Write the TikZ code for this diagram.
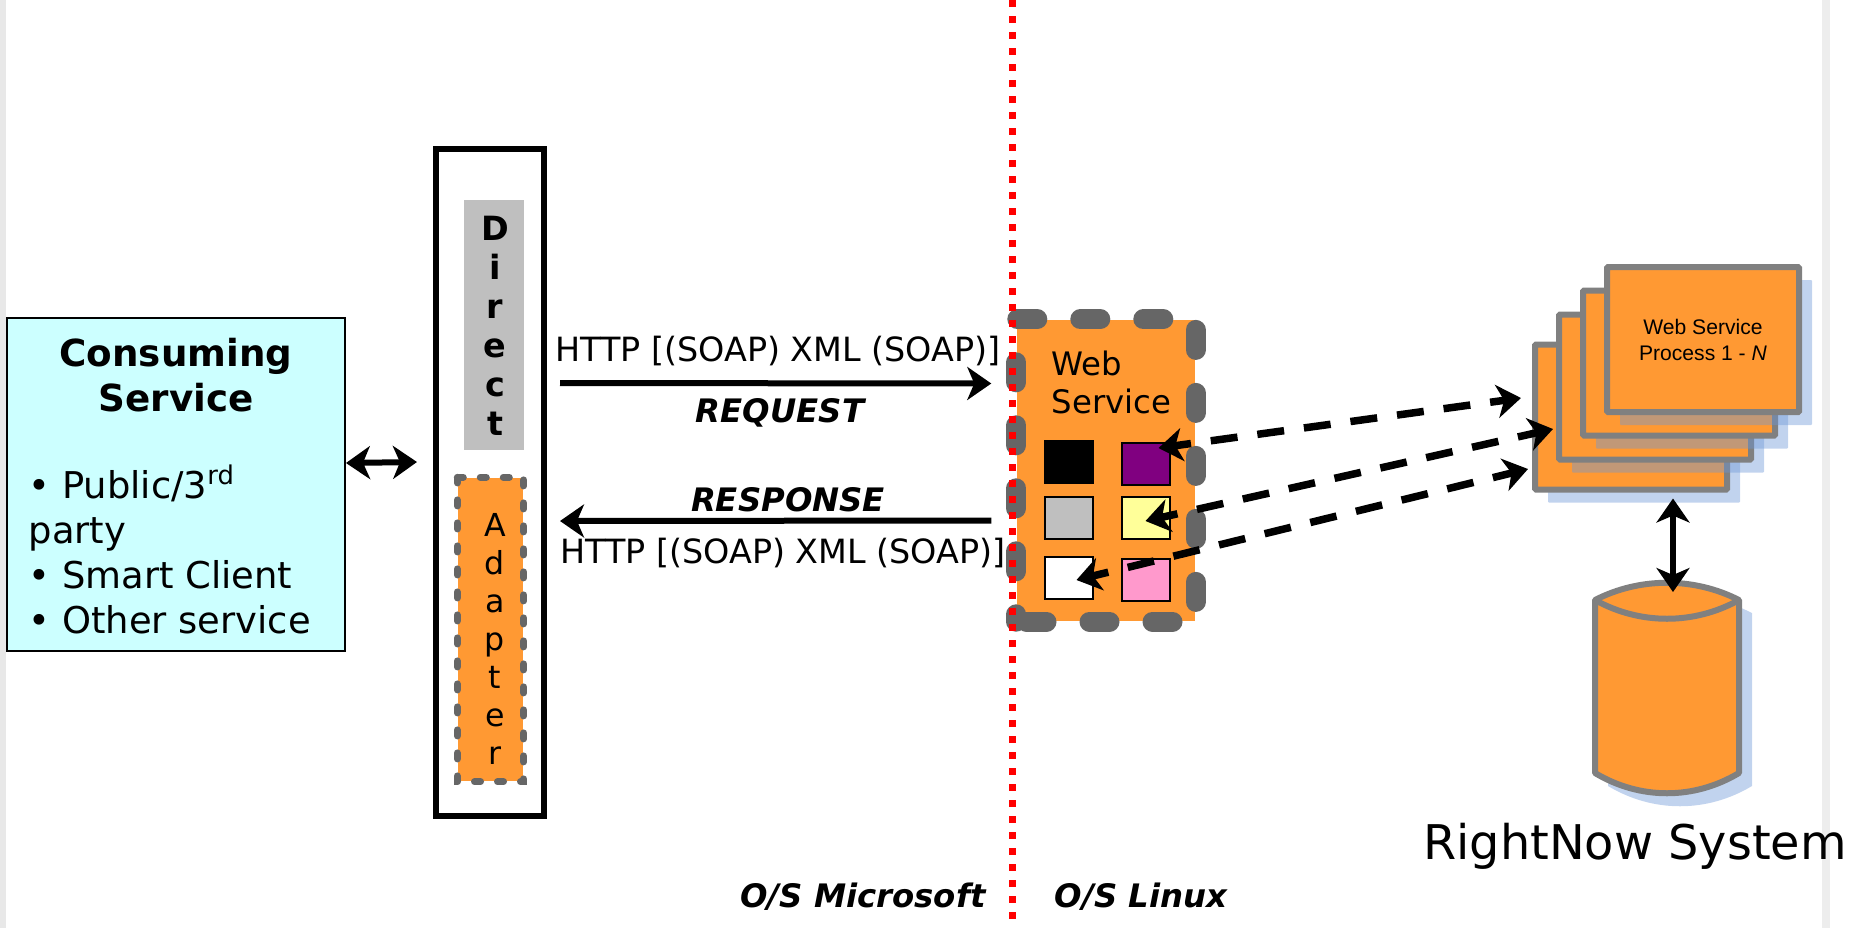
\documentclass[tikz,border=0pt]{standalone}
\usepackage{fontspec}
\setmainfont{DejaVu Sans}
\newfontfamily\arialfont{Liberation Sans}
\usetikzlibrary{positioning,calc,shadows,arrows.meta}

\definecolor{boxorange}{HTML}{FF9933}
\definecolor{boxcyan}{HTML}{CCFFFF}
\definecolor{dashgrey}{HTML}{666666}
\definecolor{stackgrey}{HTML}{808080}
\definecolor{shadeblue}{HTML}{6C97D6}
\definecolor{swpurple}{HTML}{800080}
\definecolor{swyellow}{HTML}{FFFF99}
\definecolor{swpink}{HTML}{FF99CC}

% one reference pixel
\def\px{0.1mm}

\tikzset{
  swatch/.style={draw, line width=2*\px, minimum width=48*\px, minimum height=42*\px, inner sep=0pt},
  procbox/.style={draw=stackgrey, fill=boxorange, line width=6*\px, rounded corners=1*\px,
    minimum width=192*\px, minimum height=145*\px, inner sep=0pt,
    drop shadow={shadow xshift=13*\px, shadow yshift=-13*\px, fill=shadeblue, opacity=.42}},
  link/.style={line width=6*\px, >={Stealth[length=2.4mm, width=3.3mm, inset=.7mm]}},
  dashlink/.style={link, line width=7.5*\px, dash pattern=on 27*\px off 20*\px, dash phase=10*\px},
  pill/.style={draw=dashgrey, line width=20*\px, line cap=round},
  caption/.style={font=\fontsize{9.5}{11}\selectfont},
  tag/.style={font=\bfseries\itshape\fontsize{9.2}{11}\selectfont}
}

\begin{document}
\begin{tikzpicture}[x=\px, y=-\px]
  \useasboundingbox (0,0) rectangle (1856,928);

  % page edges
  \fill[black!9] (0,0) rectangle (6,928);
  \fill[black!7] (1822,0) rectangle (1830,928);

  % Consuming service
  \node[draw, fill=boxcyan, line width=2*\px, minimum width=338*\px, minimum height=333*\px, inner sep=0pt] (consuming) at (176,484) {};
  \node[font=\bfseries\fontsize{10.6}{12.6}\selectfont, align=center] (consumingtitle) at (176,375) {Consuming\\Service};
  \node[anchor=west, font=\fontsize{10.5}{12.8}\selectfont, align=left, inner sep=0pt] (consumers) at (28,549.5)
    {• Public/3\textsuperscript{rd}\\party\\• Smart Client\\• Other service};

  % Adapter column
  \node[draw, line width=6*\px, minimum width=108*\px, minimum height=667*\px, inner sep=0pt] (column) at (490,482) {};
  \node[fill=black!25, minimum width=60*\px, minimum height=250*\px, inner sep=0pt] (direct) at (494,325) {};
  \node[font=\bfseries\fontsize{9.5}{11.1}\selectfont, align=center, inner sep=0pt] (directtxt) at (495,326) {D\\i\\r\\e\\c\\t};
  \node[fill=boxorange, minimum width=65*\px, minimum height=303*\px, inner sep=0pt] (adapter) at (490.5,629.5) {};
  \draw[draw=dashgrey, line width=7*\px, line cap=round, dash pattern=on 6*\px off 17*\px]
    (adapter.north west) -- (adapter.north east) -- (adapter.south east) -- (adapter.south west) -- cycle;
  \node[font=\fontsize{9}{10.8}\selectfont, align=center, inner sep=0pt] (adaptertxt) at (495,639) {A\\d\\a\\p\\t\\e\\r};

  % Web service
  \node[fill=boxorange, minimum width=178*\px, minimum height=301*\px, inner sep=0pt] (websvc) at (1106,470.5) {};
  \draw[pill, dash pattern=on 20*\px off 43*\px]
    ($(websvc.north west)+(1,0)$) -- (websvc.north east) -- (websvc.south east) -- (websvc.south west);
  \draw[pill, dash pattern=on 20*\px off 43*\px, dash phase=20*\px] (websvc.north west) -- (websvc.south west);
  \node[anchor=west, font=\fontsize{9.2}{10.8}\selectfont, align=left, inner sep=0pt] (websvctxt) at (1051,382) {Web\\Service};

  % Swatches
  \node[swatch, fill=black] (blackbox) at (1068.5,462) {};
  \node[swatch, fill=swpurple, right=27*\px of blackbox, yshift=-2*\px] (purplebox) {};
  \node[swatch, fill=black!25, below=12*\px of blackbox] (greybox) {};
  \node[swatch, fill=swyellow, right=27*\px of greybox] (yellowbox) {};
  \node[swatch, fill=white, below=16*\px of greybox] (whitebox) {};
  \node[swatch, fill=swpink, right=27*\px of whitebox, yshift=-2*\px] (pinkbox) {};

  % Process stack
  \foreach \name/\cx/\cy in {procA/1631/417, procB/1655/387, procC/1679/363} {
    \node[procbox] (\name) at (\cx,\cy) {};
  }
  \node[procbox, font=\arialfont\fontsize{6}{7.4}\selectfont, align=center] (procD) at (1703,339.5) {Web Service\\Process 1 - \textit{N}};

  % Database
  \begin{scope}[shift={(13,13)}]
    \fill[shadeblue, opacity=.42] (1595,600) .. controls (1640,577) and (1694,577) .. (1739,600)
      -- (1739,773) .. controls (1694,800) and (1640,800) .. (1595,773) -- cycle;
  \end{scope}
  \draw[stackgrey, fill=boxorange, line width=6*\px, line join=round] (1595,600) .. controls (1640,577) and (1694,577) .. (1739,600)
    -- (1739,773) .. controls (1694,800) and (1640,800) .. (1595,773) -- cycle;
  \draw[stackgrey, line width=6*\px] (1595,600) .. controls (1640,625) and (1694,625) .. (1739,600);
  \coordinate (dbtop) at (1673,592);
  \node[font=\fontsize{13.6}{16}\selectfont] (rightnow) at (1635,846) {RightNow System};

  % Labels
  \node[caption] (httpreq) at (778,351) {HTTP [(SOAP) XML (SOAP)]};
  \node[tag] (request) at (780,413) {REQUEST};
  \node[tag] (response) at (788,500) {RESPONSE};
  \node[caption] (httpresp) at (783,553) {HTTP [(SOAP) XML (SOAP)]};
  \node[tag] (osms) at (863,897) {O/S Microsoft};
  \node[tag] (oslinux) at (1141,897) {O/S Linux};

  % Connect the nodes
  \draw[link, <->] ($(consuming.east)+(0,-21)$) -- ($(column.west)+(-16,-20)$);
  \draw[link, ->] ($(column.east)+(13,-99)$) -- ($(websvc.west)+(-25,-87)$);
  \draw[link, <-] ($(column.east)+(13,39)$) -- ($(websvc.west)+(-25,50)$);
  \draw[link, <->] (dbtop |- procA.south) ++(0,6) -- (dbtop);
  \draw[dashlink, <->] ($(purplebox.center)+(13,-16)$) -- ($(procA.west)+(-11,-19)$);
  \draw[dashlink, <->] ($(yellowbox.center)+(0,3)$) -- ($(procB.west)+(-3,42)$);
  \draw[dashlink, <->] ($(whitebox.center)+(8,2)$) -- ($(procA.west)+(-4,52)$);

  % Boundary
  \draw[red, line width=7*\px, dash pattern=on 7*\px off 9*\px] (1012,0) -- (1012,928);

\end{tikzpicture}
\end{document}
